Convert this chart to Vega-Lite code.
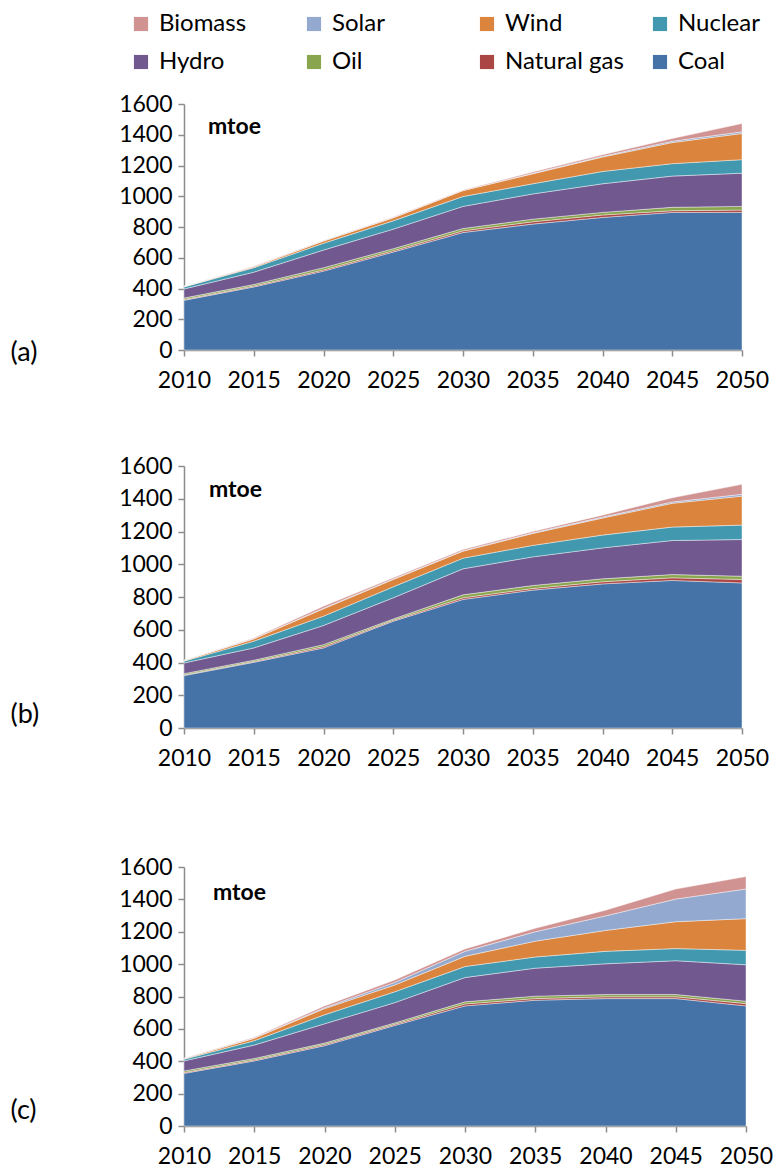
{
  "$schema": "https://vega.github.io/schema/vega-lite/v6.json",
  "background": "white",
  "padding": {"left": 10, "top": 12, "right": 10, "bottom": 0},
  "datasets": {
    "a": [
      {"year": 2010, "Coal": 323, "Natural gas": 5, "Oil": 10, "Hydro": 59, "Nuclear": 13, "Wind": 3, "Solar": 1, "Biomass": 1},
      {"year": 2015, "Coal": 410, "Natural gas": 6, "Oil": 10, "Hydro": 80, "Nuclear": 29, "Wind": 6, "Solar": 1, "Biomass": 3},
      {"year": 2020, "Coal": 513, "Natural gas": 8, "Oil": 14, "Hydro": 115, "Nuclear": 44, "Wind": 15, "Solar": 1, "Biomass": 3},
      {"year": 2025, "Coal": 637, "Natural gas": 9, "Oil": 13, "Hydro": 127, "Nuclear": 54, "Wind": 20, "Solar": 1, "Biomass": 4},
      {"year": 2030, "Coal": 764, "Natural gas": 11, "Oil": 15, "Hydro": 144, "Nuclear": 64, "Wind": 39, "Solar": 1, "Biomass": 3},
      {"year": 2035, "Coal": 819, "Natural gas": 15, "Oil": 17, "Hydro": 164, "Nuclear": 66, "Wind": 65, "Solar": 3, "Biomass": 8},
      {"year": 2040, "Coal": 862, "Natural gas": 16, "Oil": 17, "Hydro": 186, "Nuclear": 80, "Wind": 94, "Solar": 5, "Biomass": 10},
      {"year": 2045, "Coal": 895, "Natural gas": 11, "Oil": 22, "Hydro": 203, "Nuclear": 81, "Wind": 137, "Solar": 9, "Biomass": 17},
      {"year": 2050, "Coal": 895, "Natural gas": 15, "Oil": 24, "Hydro": 216, "Nuclear": 88, "Wind": 170, "Solar": 11, "Biomass": 54}
    ],
    "b": [
      {"year": 2010, "Coal": 320, "Natural gas": 4, "Oil": 8, "Hydro": 65, "Nuclear": 11, "Wind": 4, "Solar": 1, "Biomass": 1},
      {"year": 2015, "Coal": 401, "Natural gas": 5, "Oil": 8, "Hydro": 75, "Nuclear": 41, "Wind": 14, "Solar": 2, "Biomass": 4},
      {"year": 2020, "Coal": 489, "Natural gas": 8, "Oil": 12, "Hydro": 117, "Nuclear": 57, "Wind": 45, "Solar": 4, "Biomass": 12},
      {"year": 2025, "Coal": 652, "Natural gas": 6, "Oil": 8, "Hydro": 129, "Nuclear": 67, "Wind": 45, "Solar": 3, "Biomass": 7},
      {"year": 2030, "Coal": 785, "Natural gas": 10, "Oil": 18, "Hydro": 159, "Nuclear": 65, "Wind": 43, "Solar": 3, "Biomass": 7},
      {"year": 2035, "Coal": 842, "Natural gas": 10, "Oil": 18, "Hydro": 175, "Nuclear": 70, "Wind": 73, "Solar": 4, "Biomass": 8},
      {"year": 2040, "Coal": 880, "Natural gas": 13, "Oil": 18, "Hydro": 189, "Nuclear": 78, "Wind": 104, "Solar": 6, "Biomass": 12},
      {"year": 2045, "Coal": 901, "Natural gas": 16, "Oil": 20, "Hydro": 208, "Nuclear": 82, "Wind": 145, "Solar": 8, "Biomass": 26},
      {"year": 2050, "Coal": 886, "Natural gas": 21, "Oil": 20, "Hydro": 224, "Nuclear": 88, "Wind": 177, "Solar": 11, "Biomass": 61}
    ],
    "c": [
      {"year": 2010, "Coal": 325, "Natural gas": 5, "Oil": 10, "Hydro": 62, "Nuclear": 10, "Wind": 4, "Solar": 1, "Biomass": 2},
      {"year": 2015, "Coal": 402, "Natural gas": 6, "Oil": 9, "Hydro": 83, "Nuclear": 27, "Wind": 15, "Solar": 2, "Biomass": 4},
      {"year": 2020, "Coal": 496, "Natural gas": 7, "Oil": 9, "Hydro": 119, "Nuclear": 56, "Wind": 38, "Solar": 6, "Biomass": 11},
      {"year": 2025, "Coal": 621, "Natural gas": 7, "Oil": 9, "Hydro": 125, "Nuclear": 67, "Wind": 42, "Solar": 16, "Biomass": 15},
      {"year": 2030, "Coal": 742, "Natural gas": 12, "Oil": 13, "Hydro": 150, "Nuclear": 68, "Wind": 63, "Solar": 31, "Biomass": 15},
      {"year": 2035, "Coal": 777, "Natural gas": 10, "Oil": 15, "Hydro": 173, "Nuclear": 69, "Wind": 98, "Solar": 58, "Biomass": 21},
      {"year": 2040, "Coal": 787, "Natural gas": 11, "Oil": 14, "Hydro": 190, "Nuclear": 77, "Wind": 129, "Solar": 90, "Biomass": 35},
      {"year": 2045, "Coal": 787, "Natural gas": 11, "Oil": 14, "Hydro": 209, "Nuclear": 75, "Wind": 166, "Solar": 140, "Biomass": 62},
      {"year": 2050, "Coal": 742, "Natural gas": 14, "Oil": 15, "Hydro": 225, "Nuclear": 89, "Wind": 196, "Solar": 183, "Biomass": 77}
    ]
  },
  "vconcat": [
    {
      "width": 558,
      "height": 246,
      "title": {"text": "mtoe", "dx": 24, "dy": 50},
      "data": {"name": "a"},
      "transform": [
        {"fold": ["Coal", "Natural gas", "Oil", "Hydro", "Nuclear", "Wind", "Solar", "Biomass"], "as": ["source", "value"]},
        {"calculate": "indexof(['Coal','Natural gas','Oil','Hydro','Nuclear','Wind','Solar','Biomass'], datum.source)", "as": "rank"}
      ],
      "mark": {"type": "area", "stroke": "white", "strokeWidth": 0.6, "strokeOpacity": 0.7},
      "encoding": {
        "x": {"field": "year", "type": "quantitative", "scale": {"domain": [2010, 2050], "nice": false, "zero": false},
              "axis": {"values": [2010, 2015, 2020, 2025, 2030, 2035, 2040, 2045, 2050], "format": "d", "title": null}},
        "y": {"field": "value", "type": "quantitative", "stack": "zero", "scale": {"domain": [0, 1600], "nice": false},
              "axis": {"values": [0, 200, 400, 600, 800, 1000, 1200, 1400, 1600], "format": "d", "title": "(a)"}},
        "color": {"field": "source", "type": "nominal",
                  "scale": {"domain": ["Biomass", "Solar", "Wind", "Nuclear", "Hydro", "Oil", "Natural gas", "Coal"],
                            "range": ["#D19392", "#93A9CF", "#DB843D", "#4198AF", "#71588F", "#89A54E", "#AA4643", "#4572A7"]}},
        "order": {"field": "rank", "type": "quantitative"}
      }
    },
    {
      "vconcat": [
        {
          "width": 558,
          "height": 262,
          "title": {"text": "mtoe", "dx": 25, "dy": 51},
          "data": {"name": "b"},
          "transform": [
            {"fold": ["Coal", "Natural gas", "Oil", "Hydro", "Nuclear", "Wind", "Solar", "Biomass"], "as": ["source", "value"]},
            {"calculate": "indexof(['Coal','Natural gas','Oil','Hydro','Nuclear','Wind','Solar','Biomass'], datum.source)", "as": "rank"}
          ],
          "mark": {"type": "area", "stroke": "white", "strokeWidth": 0.6, "strokeOpacity": 0.7},
          "encoding": {
            "x": {"field": "year", "type": "quantitative", "scale": {"domain": [2010, 2050], "nice": false, "zero": false},
                  "axis": {"values": [2010, 2015, 2020, 2025, 2030, 2035, 2040, 2045, 2050], "format": "d", "title": null}},
            "y": {"field": "value", "type": "quantitative", "stack": "zero", "scale": {"domain": [0, 1600], "nice": false},
                  "axis": {"values": [0, 200, 400, 600, 800, 1000, 1200, 1400, 1600], "format": "d", "title": "(b)"}},
            "color": {"field": "source", "type": "nominal"},
            "order": {"field": "rank", "type": "quantitative"}
          }
        },
        {
          "width": 562,
          "height": 259,
          "title": {"text": "mtoe", "dx": 29, "dy": 53},
          "data": {"name": "c"},
          "transform": [
            {"fold": ["Coal", "Natural gas", "Oil", "Hydro", "Nuclear", "Wind", "Solar", "Biomass"], "as": ["source", "value"]},
            {"calculate": "indexof(['Coal','Natural gas','Oil','Hydro','Nuclear','Wind','Solar','Biomass'], datum.source)", "as": "rank"}
          ],
          "mark": {"type": "area", "stroke": "white", "strokeWidth": 0.6, "strokeOpacity": 0.7},
          "encoding": {
            "x": {"field": "year", "type": "quantitative", "scale": {"domain": [2010, 2050], "nice": false, "zero": false},
                  "axis": {"values": [2010, 2015, 2020, 2025, 2030, 2035, 2040, 2045, 2050], "format": "d", "title": null}},
            "y": {"field": "value", "type": "quantitative", "stack": "zero", "scale": {"domain": [0, 1600], "nice": false},
                  "axis": {"values": [0, 200, 400, 600, 800, 1000, 1200, 1400, 1600], "format": "d", "title": "(c)", "titleY": 243}},
            "color": {"field": "source", "type": "nominal"},
            "order": {"field": "rank", "type": "quantitative"}
          }
        }
      ],
      "spacing": 86
    }
  ],
  "spacing": 63,
  "config": {
    "font": "Lato",
    "view": {"stroke": null},
    "title": {"anchor": "start", "frame": "group", "orient": "top", "offset": 0, "fontSize": 23, "fontWeight": "bold", "font": "Lato", "color": "#000000"},
    "axis": {
      "grid": false,
      "domainColor": "#8C8C8C",
      "domainWidth": 1.5,
      "tickColor": "#8C8C8C",
      "tickWidth": 1.5,
      "tickSize": 6,
      "labelFont": "Lato",
      "labelFontSize": 23,
      "labelColor": "#000000",
      "labelOverlap": false,
      "labelFlush": false,
      "titleFont": "Lato",
      "titleFontSize": 27,
      "titleFontWeight": "normal",
      "titleColor": "#000000",
      "titleAngle": 0,
      "titleAlign": "left",
      "titleBaseline": "middle"
    },
    "axisX": {"labelPadding": 13},
    "axisY": {"labelPadding": 6, "titleX": -174, "titleY": 248},
    "legend": {
      "orient": "none",
      "legendX": -55,
      "legendY": -92,
      "title": null,
      "direction": "horizontal",
      "columns": 4,
      "gridAlign": "all",
      "symbolType": "square",
      "symbolSize": 200,
      "symbolStrokeWidth": 0,
      "symbolOpacity": 1,
      "labelFont": "Lato",
      "labelFontSize": 24,
      "labelColor": "#000000",
      "labelOffset": 6,
      "columnPadding": 24,
      "rowPadding": 14,
      "labelLimit": 200
    }
  }
}
